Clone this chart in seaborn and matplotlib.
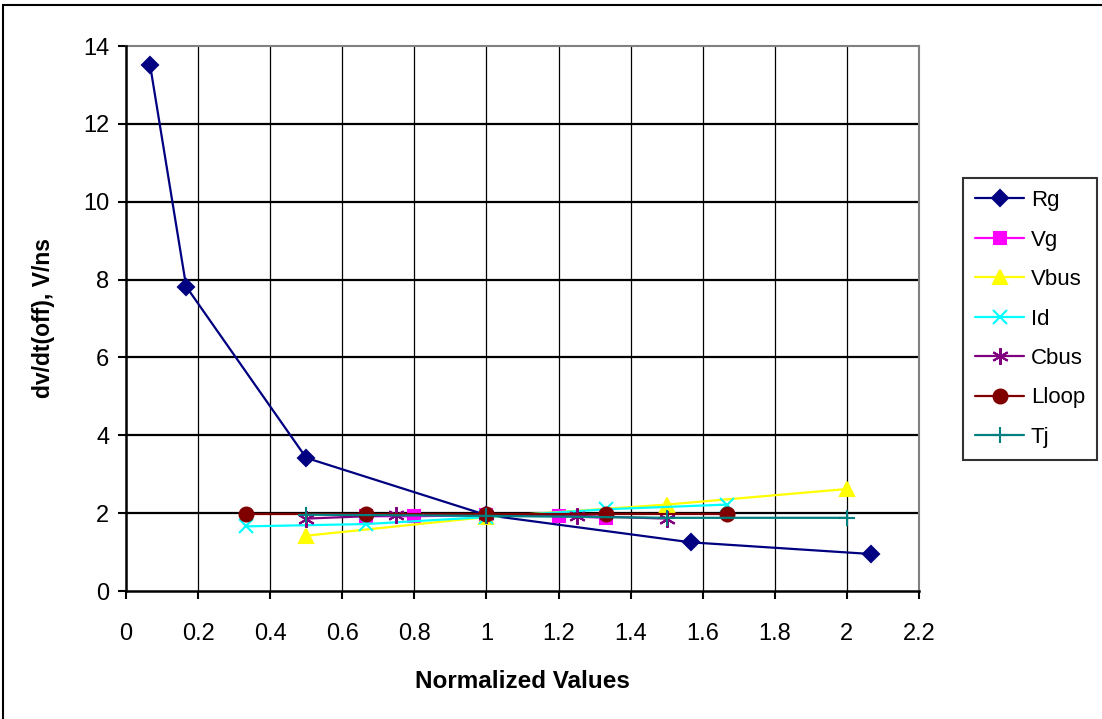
import matplotlib
matplotlib.use("Agg")
import matplotlib.pyplot as plt
import seaborn as sns
import pandas as pd
from matplotlib.patches import Rectangle

# Normalized parameter values (x) and turn-off dv/dt (V/ns) for each swept parameter
rg_x = [0.067, 0.167, 0.5, 1.0, 1.567, 2.067]
rg_y = [13.5, 7.82, 3.42, 1.95, 1.25, 0.95]

vg_x = [0.667, 0.8, 1.0, 1.2, 1.333]
vg_y = [1.92, 1.92, 1.95, 1.93, 1.88]

vbus_x = [0.5, 1.0, 1.5, 2.0]
vbus_y = [1.42, 1.9, 2.22, 2.62]

id_x = [0.333, 0.667, 1.0, 1.333, 1.667]
id_y = [1.66, 1.72, 1.9, 2.1, 2.22]

cbus_x = [0.5, 0.75, 1.0, 1.25, 1.5]
cbus_y = [1.86, 1.95, 1.95, 1.93, 1.86]

lloop_x = [0.333, 0.667, 1.0, 1.333, 1.667]
lloop_y = [1.97, 1.97, 1.97, 1.97, 1.97]

tj_x = [0.5, 1.0, 1.5, 2.0]
tj_y = [1.96, 1.93, 1.88, 1.88]

series = [
    ("Rg", rg_x, rg_y, "#000080", "D", 8),
    ("Vg", vg_x, vg_y, "#FF00FF", "s", 8),
    ("Vbus", vbus_x, vbus_y, "#FFFF00", "^", 10),
    ("Id", id_x, id_y, "#00FFFF", "x", 10),
    ("Cbus", cbus_x, cbus_y, "#800080", (6, 2, 0), 12),
    ("Lloop", lloop_x, lloop_y, "#800000", "o", 10),
    ("Tj", tj_x, tj_y, "#008080", "+", 12),
]

sns.set_theme(style="white")
plt.rcParams["font.family"] = ["Liberation Sans", "DejaVu Sans"]
plt.rcParams["text.color"] = "black"
plt.rcParams["axes.labelcolor"] = "black"
plt.rcParams["xtick.color"] = "black"
plt.rcParams["ytick.color"] = "black"

fig = plt.figure(figsize=(11.02, 7.19), dpi=100)
ax = fig.add_axes([126 / 1102, 1 - 591 / 719, (919 - 126) / 1102, (591 - 46) / 719])

# Outer chart-area border
fig.patches.append(Rectangle((3 / 1102, -0.1), 1.2, 1 - 5 / 719 + 0.1,
                             transform=fig.transFigure, fill=False,
                             edgecolor="black", linewidth=1.5, zorder=0))

for name, xs, ys, color, marker, ms in series:
    df = pd.DataFrame({"x": xs, "y": ys})
    sns.lineplot(data=df, x="x", y="y", ax=ax, color=color, marker=marker,
                 markersize=ms, markeredgecolor=color, markeredgewidth=1.5,
                 linewidth=1.6, sort=False, label=name, zorder=3)

ax.set_xlim(0, 2.2)
ax.set_ylim(0, 14)
ax.set_xticks([0, 0.2, 0.4, 0.6, 0.8, 1, 1.2, 1.4, 1.6, 1.8, 2, 2.2])
ax.set_xticklabels(["0", "0.2", "0.4", "0.6", "0.8", "1", "1.2", "1.4", "1.6", "1.8", "2", "2.2"])
ax.set_yticks(range(0, 15, 2))

# Gridlines: heavy horizontal, light vertical
for yv in range(2, 14, 2):
    ax.axhline(yv, color="black", linewidth=1.6, zorder=1)
for xv in [0.2, 0.4, 0.6, 0.8, 1.0, 1.2, 1.4, 1.6, 1.8, 2.0]:
    ax.axvline(xv, color="black", linewidth=0.9, zorder=1)

for side in ["top", "right"]:
    ax.spines[side].set_color("#808080")
    ax.spines[side].set_linewidth(1.5)
for side in ["left", "bottom"]:
    ax.spines[side].set_color("black")
    ax.spines[side].set_linewidth(1.8)
    ax.spines[side].set_zorder(4)

ax.tick_params(axis="both", which="major", direction="out", length=6, width=1.5,
               color="black", labelsize=17, bottom=True, left=True)
ax.tick_params(axis="y", pad=6)
ax.tick_params(axis="x", pad=17)

ax.set_xlabel("Normalized Values", fontsize=17.5, fontweight="bold", labelpad=18)
ax.set_ylabel("dv/dt(off), V/ns", fontsize=16.5, fontweight="bold", labelpad=20)

leg = ax.legend(loc="upper left", bbox_to_anchor=(963 / 1102, 1 - 178 / 719),
                bbox_transform=fig.transFigure, frameon=True, fancybox=False,
                fontsize=16, handlelength=2.2, labelspacing=0.83,
                borderpad=0.55, handletextpad=0.3, borderaxespad=0)
leg.get_frame().set_edgecolor("black")
leg.get_frame().set_linewidth(1.5)

fig.savefig("out.png", dpi=100)
